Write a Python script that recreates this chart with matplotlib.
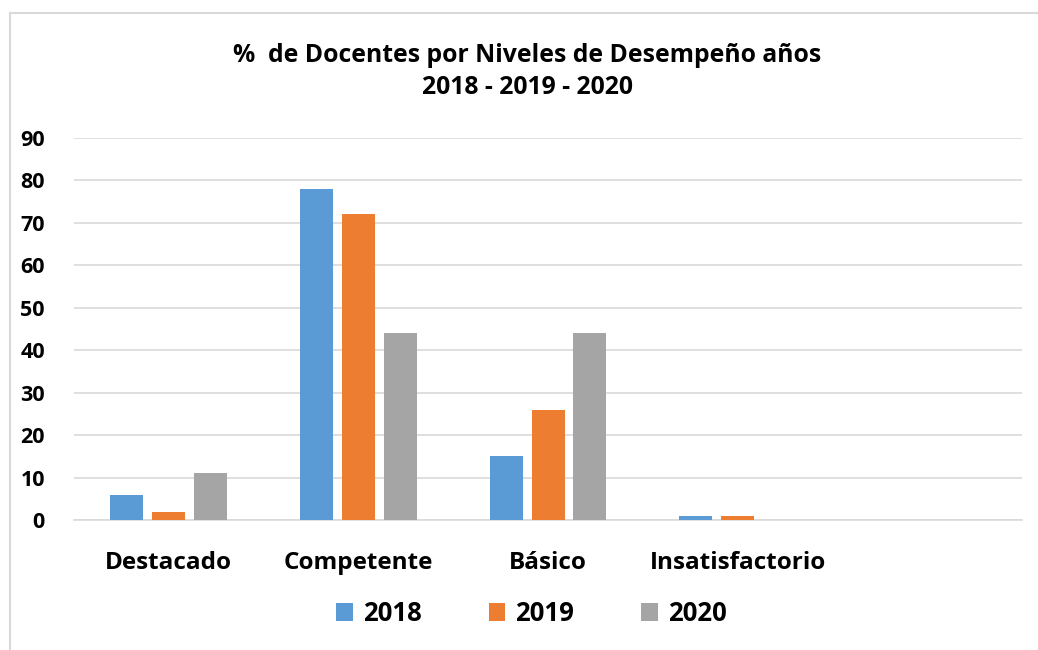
import numpy as np
import matplotlib
matplotlib.use("Agg")
import matplotlib.pyplot as plt
from matplotlib.lines import Line2D

categorias = ["Destacado", "Competente", "Básico", "Insatisfactorio", ""]
anios = ["2018", "2019", "2020"]
v2018 = [6, 78, 15, 1, 0]
v2019 = [2, 72, 26, 1, 0]
v2020 = [11, 44, 44, 0, 0]
colores = ["#5B9BD5", "#ED7D31", "#A5A5A5"]

plt.rcParams['font.family'] = ['Open Sans', 'DejaVu Sans']
plt.rcParams['font.weight'] = 'bold'

fig = plt.figure(figsize=(10.38, 6.5), dpi=100)
# marco: solo borde superior e izquierdo
fig.lines.append(Line2D([0.0092, 1.0], [0.9795, 0.9795], transform=fig.transFigure,
                        color="#D9D9D9", linewidth=1.5))
fig.lines.append(Line2D([0.0092, 0.0092], [0.0, 0.9795], transform=fig.transFigure,
                        color="#D9D9D9", linewidth=1.5))
ax = fig.add_axes([0.0713, 0.2, 0.9133, 0.5877])

x = np.arange(len(categorias))
ancho = 0.174
paso = 0.221
for i, (serie, c) in enumerate(zip([v2018, v2019, v2020], colores)):
    ax.bar(x + (i - 1) * paso, serie, ancho, color=c, label=anios[i], zorder=3)

ax.set_xlim(-0.5, len(categorias) - 0.5)
ax.set_ylim(0, 90)
ax.set_yticks(range(0, 91, 10))
ax.yaxis.grid(True, color="#D9D9D9", linewidth=1.2, zorder=0)
for s in ["top", "right", "left"]:
    ax.spines[s].set_visible(False)
ax.spines["bottom"].set_color("#D9D9D9")
ax.spines["bottom"].set_linewidth(1.2)
ax.tick_params(axis="both", length=0)
ax.tick_params(axis="y", labelsize=15.5, pad=21)
ax.tick_params(axis="x", labelsize=17.5, pad=22)
ax.set_xticks(x)
ax.set_xticklabels(categorias, fontweight="bold")
for t in ax.get_yticklabels():
    t.set_fontweight("bold")

fig.text(0.508, 0.89, "%  de Docentes por Niveles de Desempeño años\n2018 - 2019 - 2020",
         ha="center", va="center", fontsize=17.8, fontweight="bold", linespacing=1.35)

leg = fig.legend(loc="center", bbox_to_anchor=(0.512, 0.056), ncol=3, frameon=False,
                 fontsize=18.5, handlelength=0.65, handleheight=0.65, columnspacing=2.6,
                 handletextpad=0.4)
for t in leg.get_texts():
    t.set_fontweight("bold")

fig.savefig("out.png", dpi=100)
